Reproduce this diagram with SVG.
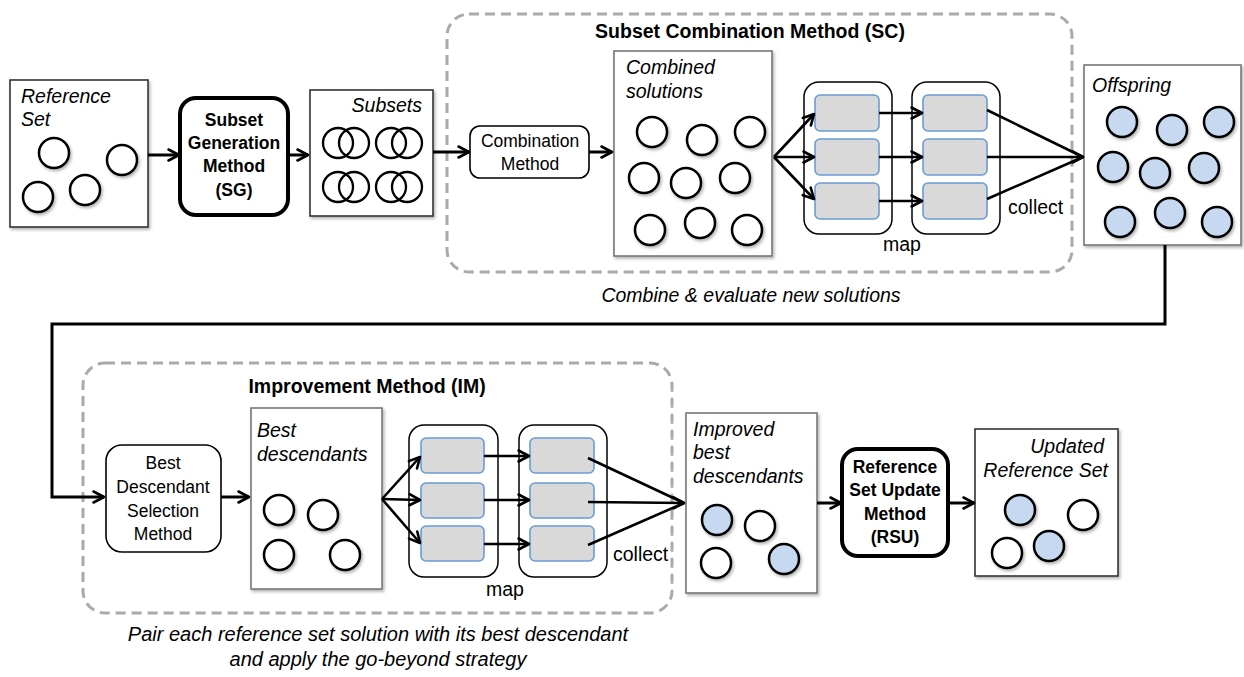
<svg xmlns="http://www.w3.org/2000/svg" width="1244" height="677" viewBox="0 0 1244 677">
  <defs>
    <marker id="arr" viewBox="0 0 14 14" refX="12" refY="7" markerWidth="14" markerHeight="14" markerUnits="userSpaceOnUse" orient="auto">
      <path d="M1.5,1.5 L12,7 L1.5,12.5" fill="none" stroke="#000" stroke-width="2.6" stroke-linecap="round" stroke-linejoin="round"/>
    </marker>
    <filter id="shadow" x="-20%" y="-20%" width="150%" height="150%">
      <feDropShadow dx="1.5" dy="2" stdDeviation="1.5" flood-color="#000" flood-opacity="0.3"/>
    </filter>
  </defs>
  <style>
    .box { fill: #fff; stroke: #333; stroke-width: 1.6; filter: url(#shadow); }
    .boxg { fill: #fff; stroke: #777; stroke-width: 1.6; filter: url(#shadow); }
    .proc { fill: #fff; stroke: #000; stroke-width: 1.6; }
    .key { fill: #fff; stroke: #000; stroke-width: 4; }
    .dash { fill: none; stroke: #aaa; stroke-width: 3; stroke-dasharray: 10 6; }
    .sol { fill: #fff; stroke: #000; stroke-width: 2.5; filter: url(#shadow); }
    .solb { fill: #c6d9f1; stroke: #000; stroke-width: 2.5; filter: url(#shadow); }
    .venn { fill: none; stroke: #000; stroke-width: 2.3; }
    .task { fill: #d9d9d9; stroke: #6a9bd5; stroke-width: 1.6; }
    .cont { fill: #fff; stroke: #000; stroke-width: 1.5; }
    .con { fill: none; stroke: #000; stroke-width: 3; }
    .fan { fill: none; stroke: #000; stroke-width: 2.6; }
    .lbl { font-family: "Liberation Sans", Arial, sans-serif; font-style: italic; font-size: 19.5px; fill: #000; }
    .ptxt { font-family: "Liberation Sans", Arial, sans-serif; font-size: 17.5px; fill: #000; text-anchor: middle; }
    .ktxt { font-family: "Liberation Sans", Arial, sans-serif; font-size: 17.5px; font-weight: bold; fill: #000; text-anchor: middle; }
    .title { font-family: "Liberation Sans", Arial, sans-serif; font-size: 19.5px; font-weight: bold; fill: #000; text-anchor: middle; }
    .cap { font-family: "Liberation Sans", Arial, sans-serif; font-size: 19.5px; font-style: italic; fill: #000; text-anchor: middle; }
    .cap2 { font-family: "Liberation Sans", Arial, sans-serif; font-size: 20px; font-style: italic; fill: #000; text-anchor: middle; }
    .small { font-family: "Liberation Sans", Arial, sans-serif; font-size: 19.5px; fill: #000; }
  </style>

  <!-- grouping frames -->
  <g id="sc-frame">
    <rect class="dash" x="447" y="14" width="625" height="258" rx="22"/>
    <text class="title" x="750" y="38">Subset Combination Method (SC)</text>
    <text class="cap" x="751" y="302">Combine &amp; evaluate new solutions</text>
  </g>
  <g id="im-frame">
    <rect class="dash" x="83" y="363" width="589" height="250" rx="22"/>
    <text class="title" x="367" y="393">Improvement Method (IM)</text>
    <text class="cap2" x="378" y="641">Pair each reference set solution with its best descendant</text>
    <text class="cap2" x="378" y="666">and apply the go-beyond strategy</text>
  </g>

  <!-- Reference Set -->
  <g id="reference-set">
    <rect class="box" x="10" y="80" width="138" height="147"/>
    <text class="lbl" x="21" y="103">Reference</text>
    <text class="lbl" x="21" y="126">Set</text>
    <circle class="sol" cx="54" cy="153" r="15"/>
    <circle class="sol" cx="122" cy="160" r="15"/>
    <circle class="sol" cx="38" cy="197" r="15"/>
    <circle class="sol" cx="85" cy="190" r="15"/>
  </g>

  <!-- Subset Generation Method -->
  <g id="sg">
    <rect class="key" x="180" y="98" width="108" height="117" rx="16"/>
    <text class="ktxt" x="234" y="126">Subset</text>
    <text class="ktxt" x="234" y="149">Generation</text>
    <text class="ktxt" x="234" y="172">Method</text>
    <text class="ktxt" x="234" y="196">(SG)</text>
  </g>

  <!-- Subsets -->
  <g id="subsets">
    <rect class="box" x="310" y="90" width="123" height="126"/>
    <text class="lbl" x="422" y="112" text-anchor="end">Subsets</text>
    <circle class="venn" cx="338" cy="143" r="15"/>
    <circle class="venn" cx="354" cy="143" r="15"/>
    <circle class="venn" cx="391" cy="143" r="15"/>
    <circle class="venn" cx="407" cy="143" r="15"/>
    <circle class="venn" cx="338" cy="187" r="15"/>
    <circle class="venn" cx="354" cy="187" r="15"/>
    <circle class="venn" cx="391" cy="187" r="15"/>
    <circle class="venn" cx="407" cy="187" r="15"/>
  </g>

  <!-- Combination Method -->
  <g id="combination">
    <rect class="proc" x="470" y="126" width="119" height="52" rx="10"/>
    <text class="ptxt" x="530" y="147">Combination</text>
    <text class="ptxt" x="530" y="170">Method</text>
  </g>

  <!-- Combined solutions -->
  <g id="combined">
    <rect class="boxg" x="614" y="51" width="158" height="205"/>
    <text class="lbl" x="626" y="74">Combined</text>
    <text class="lbl" x="626" y="98">solutions</text>
    <circle class="sol" cx="652" cy="132" r="15"/>
    <circle class="sol" cx="702" cy="140" r="15"/>
    <circle class="sol" cx="750" cy="132" r="15"/>
    <circle class="sol" cx="644" cy="178" r="15"/>
    <circle class="sol" cx="686" cy="183" r="15"/>
    <circle class="sol" cx="735" cy="178" r="15"/>
    <circle class="sol" cx="650" cy="230" r="15"/>
    <circle class="sol" cx="700" cy="223" r="15"/>
    <circle class="sol" cx="747" cy="230" r="15"/>
  </g>

  <!-- upper map stage -->
  <g id="sc-map">
    <rect class="cont" x="804" y="82" width="88" height="152" rx="15"/>
    <rect class="cont" x="912" y="82" width="88" height="152" rx="15"/>
    <rect class="task" x="815" y="95" width="64" height="36" rx="5"/>
    <rect class="task" x="815" y="139" width="64" height="36" rx="5"/>
    <rect class="task" x="815" y="183" width="64" height="36" rx="5"/>
    <rect class="task" x="923" y="95" width="64" height="36" rx="5"/>
    <rect class="task" x="923" y="139" width="64" height="36" rx="5"/>
    <rect class="task" x="923" y="183" width="64" height="36" rx="5"/>
    <text class="small" x="902" y="251" text-anchor="middle">map</text>
    <text class="small" x="1008" y="214">collect</text>
  </g>

  <!-- Offspring -->
  <g id="offspring">
    <rect class="boxg" x="1084" y="65" width="157" height="180"/>
    <text class="lbl" x="1092" y="92">Offspring</text>
    <circle class="solb" cx="1122" cy="122" r="15"/>
    <circle class="solb" cx="1172" cy="130" r="15"/>
    <circle class="solb" cx="1219" cy="122" r="15"/>
    <circle class="solb" cx="1113" cy="167" r="15"/>
    <circle class="solb" cx="1155" cy="173" r="15"/>
    <circle class="solb" cx="1204" cy="168" r="15"/>
    <circle class="solb" cx="1120" cy="222" r="15"/>
    <circle class="solb" cx="1170" cy="213" r="15"/>
    <circle class="solb" cx="1217" cy="222" r="15"/>
  </g>

  <!-- Best Descendant Selection Method -->
  <g id="bds">
    <rect class="proc" x="106" y="445" width="115" height="107" rx="16"/>
    <text class="ptxt" x="163" y="469">Best</text>
    <text class="ptxt" x="163" y="493">Descendant</text>
    <text class="ptxt" x="163" y="517">Selection</text>
    <text class="ptxt" x="163" y="540">Method</text>
  </g>

  <!-- Best descendants -->
  <g id="best-descendants">
    <rect class="boxg" x="251" y="408" width="131" height="181"/>
    <text class="lbl" x="257" y="437">Best</text>
    <text class="lbl" x="257" y="461">descendants</text>
    <circle class="sol" cx="279" cy="510" r="15"/>
    <circle class="sol" cx="323" cy="515" r="15"/>
    <circle class="sol" cx="279" cy="555" r="15"/>
    <circle class="sol" cx="345" cy="555" r="15"/>
  </g>

  <!-- lower map stage -->
  <g id="im-map">
    <rect class="cont" x="409" y="425" width="89" height="152" rx="15"/>
    <rect class="cont" x="519" y="425" width="88" height="152" rx="15"/>
    <rect class="task" x="421" y="438" width="63" height="35" rx="5"/>
    <rect class="task" x="421" y="483" width="63" height="35" rx="5"/>
    <rect class="task" x="421" y="526" width="63" height="35" rx="5"/>
    <rect class="task" x="530" y="438" width="64" height="35" rx="5"/>
    <rect class="task" x="530" y="483" width="64" height="35" rx="5"/>
    <rect class="task" x="530" y="526" width="64" height="35" rx="5"/>
    <text class="small" x="505" y="596" text-anchor="middle">map</text>
    <text class="small" x="613" y="561">collect</text>
  </g>

  <!-- Improved best descendants -->
  <g id="improved">
    <rect class="boxg" x="686" y="413" width="131" height="180"/>
    <text class="lbl" x="693" y="436">Improved</text>
    <text class="lbl" x="693" y="459">best</text>
    <text class="lbl" x="693" y="483">descendants</text>
    <circle class="solb" cx="717" cy="520" r="15"/>
    <circle class="sol" cx="760" cy="526" r="15"/>
    <circle class="sol" cx="716" cy="563" r="15"/>
    <circle class="solb" cx="784" cy="559" r="15"/>
  </g>

  <!-- Reference Set Update Method -->
  <g id="rsu">
    <rect class="key" x="842" y="449" width="106" height="107" rx="16"/>
    <text class="ktxt" x="895" y="473">Reference</text>
    <text class="ktxt" x="895" y="496">Set Update</text>
    <text class="ktxt" x="895" y="520">Method</text>
    <text class="ktxt" x="895" y="543">(RSU)</text>
  </g>

  <!-- Updated Reference Set -->
  <g id="updated">
    <rect class="box" x="975" y="429" width="143" height="147"/>
    <text class="lbl" x="1104" y="453" text-anchor="end">Updated</text>
    <text class="lbl" x="1108" y="477" text-anchor="end">Reference Set</text>
    <circle class="solb" cx="1020" cy="510" r="15"/>
    <circle class="sol" cx="1083" cy="515" r="15"/>
    <circle class="sol" cx="1007" cy="553" r="15"/>
    <circle class="solb" cx="1049" cy="546" r="15"/>
  </g>

  <!-- connectors (drawn over the nodes) -->
  <g id="connectors">
    <line class="con" x1="148" y1="155" x2="179" y2="155" marker-end="url(#arr)"/>
    <line class="con" x1="288" y1="155" x2="308" y2="155" marker-end="url(#arr)"/>
    <line class="con" x1="433" y1="152" x2="469" y2="152" marker-end="url(#arr)"/>
    <line class="con" x1="589" y1="152" x2="612" y2="152" marker-end="url(#arr)"/>
    <!-- upper map fan-out -->
    <line class="fan" x1="774" y1="157" x2="814" y2="114" marker-end="url(#arr)"/>
    <line class="fan" x1="774" y1="157" x2="814" y2="157" marker-end="url(#arr)"/>
    <line class="fan" x1="774" y1="157" x2="814" y2="199" marker-end="url(#arr)"/>
    <line class="fan" x1="879" y1="113" x2="922" y2="113" marker-end="url(#arr)"/>
    <line class="fan" x1="879" y1="157" x2="922" y2="157" marker-end="url(#arr)"/>
    <line class="fan" x1="879" y1="201" x2="922" y2="201" marker-end="url(#arr)"/>
    <!-- upper collect -->
    <line class="fan" x1="987" y1="110" x2="1083" y2="157"/>
    <line class="fan" x1="987" y1="157" x2="1083" y2="157" marker-end="url(#arr)"/>
    <line class="fan" x1="987" y1="199" x2="1083" y2="157"/>
    <!-- offspring to best descendant selection -->
    <polyline class="con" points="1165,245 1165,324 52,324 52,497 104,497" marker-end="url(#arr)"/>
    <line class="con" x1="221" y1="497" x2="249" y2="497" marker-end="url(#arr)"/>
    <!-- lower map fan-out -->
    <line class="fan" x1="382" y1="499" x2="420" y2="457" marker-end="url(#arr)"/>
    <line class="fan" x1="382" y1="499" x2="420" y2="500" marker-end="url(#arr)"/>
    <line class="fan" x1="382" y1="499" x2="420" y2="543" marker-end="url(#arr)"/>
    <line class="fan" x1="484" y1="456" x2="529" y2="456" marker-end="url(#arr)"/>
    <line class="fan" x1="484" y1="500" x2="529" y2="500" marker-end="url(#arr)"/>
    <line class="fan" x1="484" y1="544" x2="529" y2="544" marker-end="url(#arr)"/>
    <!-- lower collect -->
    <line class="fan" x1="588" y1="458" x2="684" y2="503"/>
    <line class="fan" x1="588" y1="502" x2="684" y2="503" marker-end="url(#arr)"/>
    <line class="fan" x1="588" y1="545" x2="684" y2="503"/>
    <line class="con" x1="817" y1="503" x2="841" y2="503" marker-end="url(#arr)"/>
    <line class="con" x1="948" y1="503" x2="974" y2="503" marker-end="url(#arr)"/>
  </g>
</svg>
